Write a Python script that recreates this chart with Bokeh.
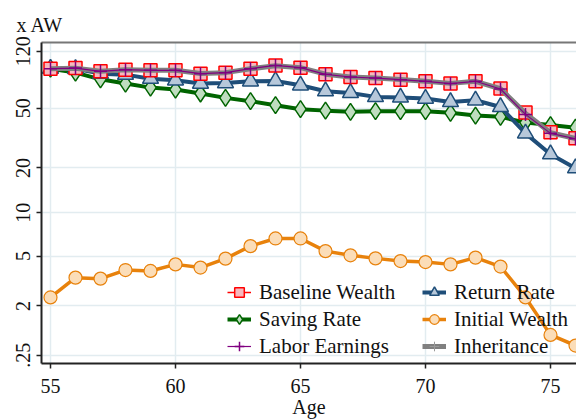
import numpy as np
from bokeh.plotting import figure
from bokeh.models import (Range1d, FixedTicker, Legend, LegendItem, LinearAxis,
                          CustomJSTickFormatter)
from bokeh.embed import file_html
from bokeh.resources import INLINE

ages = list(range(55, 77))
baseline = [91.7, 92.6, 88.1, 90.3, 89.4, 89.4, 85.0, 86.3, 91.7, 96.4, 93.1,
            84.1, 80.7, 79.4, 77.5, 75.6, 73.0, 75.6, 67.6, 46.9, 34.6, 31.6]
return_rate = [91.7, 91.5, 85.0, 83.7, 78.7, 76.7, 73.0, 73.6, 75.6, 76.0, 71.1,
               64.9, 63.2, 59.5, 59.0, 58.0, 55.1, 56.5, 51.0, 34.0, 24.7, 19.9]
saving_rate = [91.7, 86.3, 77.9, 73.0, 68.6, 66.6, 62.7, 58.6, 55.7, 52.4, 49.3,
               48.2, 47.3, 47.8, 47.8, 47.8, 46.6, 44.7, 43.8, 40.1, 38.6, 37.1]
initial_wealth = [2.39, 3.46, 3.40, 3.95, 3.89, 4.35, 4.12, 4.79, 5.88, 6.65, 6.65,
                  5.42, 5.06, 4.81, 4.60, 4.52, 4.35, 4.87, 4.19, 2.39, 0.905, 0.557]
labor_earnings = [91.7, 92.6, 88.1, 90.3, 89.4, 89.4, 85.0, 86.3, 91.7, 96.4, 93.1,
                  84.1, 80.7, 79.4, 77.5, 75.6, 73.0, 75.6, 67.2, 45.5, 34.0, 31.3]
inheritance = [91.7, 92.4, 88.3, 90.1, 89.4, 89.6, 85.2, 86.3, 91.5, 96.0, 93.1,
               84.3, 80.7, 79.4, 77.6, 75.6, 73.2, 75.6, 67.4, 46.2, 34.3, 31.4]

x_ticks = [55, 60, 65, 70, 75]
y_tick_values = [0.25, 2, 5, 10, 20, 50, 120]
y_tick_labels = [".25", "2", "5", "10", "20", "50", "120"]


def tr(v):
    # axis transform used by the original chart: asinh(v / 2)
    return np.arcsinh(np.asarray(v, dtype=float) / 2.0)


y_tick_pos = [float(t) for t in tr(y_tick_values)]

FONT = "Liberation Serif"

p = figure(width=576, height=420, x_range=Range1d(54.64, 76.04),
           y_range=Range1d(0, 4.92), output_backend="svg", toolbar_location=None,
           min_border_left=41, min_border_right=0, min_border_top=42,
           min_border_bottom=55)
p.outline_line_color = None
p.background_fill_color = "white"
p.border_fill_color = "white"

# title "x AW"
p.title.text = "x AW"
p.title.align = "left"
p.title.offset = -25
p.title.text_font = FONT
p.title.text_font_size = "20px"
p.title.text_font_style = "normal"
p.title.text_color = "#111111"
p.title.standoff = 13

bottom = p.below[0]
left = p.left[0]

xt = FixedTicker(ticks=x_ticks)
yt = FixedTicker(ticks=y_tick_pos)

bottom.ticker = xt
left.ticker = yt
left.formatter = CustomJSTickFormatter(
    args=dict(pos=y_tick_pos, lab=y_tick_labels),
    code="""
let best = 0, bd = 1e9;
for (let i = 0; i < pos.length; i++) {
  const d = Math.abs(pos[i] - tick);
  if (d < bd) { bd = d; best = i; }
}
return lab[best];
""")

for ax in (bottom, left):
    ax.axis_line_color = "#222222"
    ax.axis_line_width = 2
    ax.major_tick_line_color = "#222222"
    ax.major_tick_line_width = 1.5
    ax.major_tick_out = 5
    ax.major_tick_in = 0
    ax.minor_tick_line_color = None
    ax.major_label_text_font = FONT
    ax.major_label_text_font_size = "20px"
    ax.major_label_text_color = "#111111"

left.major_label_orientation = "vertical"
left.major_label_standoff = 6
bottom.major_label_standoff = 10
bottom.axis_label = "Age"
bottom.axis_label_text_font = FONT
bottom.axis_label_text_font_size = "20px"
bottom.axis_label_text_font_style = "normal"
bottom.axis_label_text_color = "#111111"
bottom.axis_label_standoff = 0

# top border (gray), an empty axis
top_axis = LinearAxis(ticker=FixedTicker(ticks=[]), axis_line_color="#777777",
                      axis_line_width=2, major_tick_line_color=None,
                      minor_tick_line_color=None, major_label_text_font_size="0px",
                      major_label_standoff=0, major_tick_out=0)
p.add_layout(top_axis, "above")

p.xgrid.ticker = xt
p.ygrid.ticker = yt
p.xgrid.grid_line_color = "#E2ECF0"
p.ygrid.grid_line_color = "#E2ECF0"
p.xgrid.grid_line_width = 1.5
p.ygrid.grid_line_width = 1.5

# series
ORANGE, ORANGE_F = "#E8820C", "#FBDDB8"
GREEN, GREEN_F = "#006400", "#BFDDBF"
BLUE, BLUE_F = "#1F4E79", "#B7C8DA"
RED, RED_F = "#FF0000", "#F6B8BE"
PURPLE = "#800080"
GRAY = "#808080"

o_l = p.line(ages, tr(initial_wealth), line_color=ORANGE, line_width=3.5)
o_s = p.scatter(ages, tr(initial_wealth), marker="circle", size=13,
                fill_color=ORANGE_F, line_color=ORANGE, line_width=1.2)

g_l = p.line(ages, tr(saving_rate), line_color=GREEN, line_width=4)
g_s = p.scatter(ages, tr(saving_rate), marker="diamond", size=17,
                fill_color=GREEN_F, line_color=GREEN, line_width=1.5)

b_l = p.line(ages, tr(return_rate), line_color=BLUE, line_width=4)
b_s = p.scatter(ages, tr(return_rate), marker="triangle", size=16,
                fill_color=BLUE_F, line_color=BLUE, line_width=1.5)

r_l = p.line(ages, tr(baseline), line_color=RED, line_width=1.5)
r_s = p.scatter(ages, tr(baseline), marker="square", size=13,
                fill_color=RED_F, line_color=RED, line_width=1.5)

gr_l = p.line(ages, tr(inheritance), line_color=GRAY, line_width=5)
gr_s = p.scatter(ages, tr(inheritance), marker="cross", size=6,
                 line_color="#9a9a9a", line_width=1)

pu_l = p.line(ages, tr(labor_earnings), line_color=PURPLE, line_width=1.2)
pu_s = p.scatter(ages, tr(labor_earnings), marker="cross", size=13,
                 line_color=PURPLE, line_width=1.5)

legend_kw = dict(border_line_color=None, background_fill_alpha=0,
                 padding=0, margin=0, spacing=1, label_standoff=8,
                 glyph_width=24, glyph_height=26, label_height=26,
                 label_text_font=FONT, label_text_font_size="21px",
                 label_text_color="#111111")

leg1 = Legend(items=[
    LegendItem(label="Baseline Wealth", renderers=[r_l, r_s]),
    LegendItem(label="Saving Rate", renderers=[g_l, g_s]),
    LegendItem(label="Labor Earnings", renderers=[pu_l, pu_s]),
], location=(186, 4), **legend_kw)
leg2 = Legend(items=[
    LegendItem(label="Return Rate", renderers=[b_l, b_s]),
    LegendItem(label="Initial Wealth", renderers=[o_l, o_s]),
    LegendItem(label="Inheritance", renderers=[gr_l, gr_s]),
], location=(381, 4), **legend_kw)
p.add_layout(leg1)
p.add_layout(leg2)

open("out.html", "w").write(file_html(p, INLINE))
